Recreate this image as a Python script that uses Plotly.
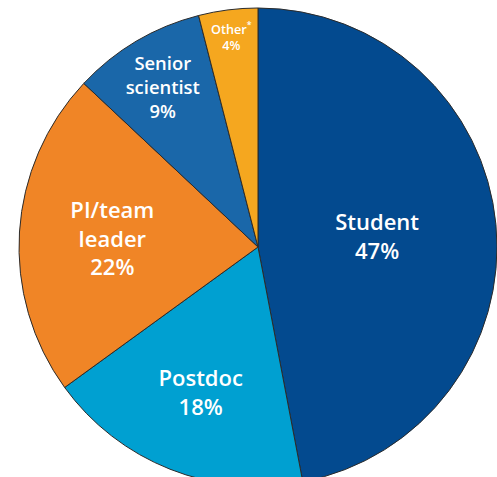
import plotly.graph_objects as go

categories = ["Student", "Postdoc", "PI/team<br>leader", "Senior<br>scientist", "Other<sup>*</sup>"]
shares = [47, 18, 22, 9, 4]
colors = ["#034A8F", "#00A0D1", "#F08526", "#1A67A9", "#F5A71F"]

W, H = 497, 486
cx, cy, r = 258, 247, 239

fig = go.Figure(go.Pie(
    labels=categories,
    values=shares,
    sort=False,
    direction="clockwise",
    rotation=0,
    marker=dict(colors=colors, line=dict(color="#2b2b2b", width=1)),
    texttemplate="%{label}<br>%{value}%",
    textposition="inside",
    insidetextorientation="horizontal",
    textfont=dict(family="Open Sans, sans-serif", size=22, color="white", weight=600),
    hoverinfo="label+value",
    showlegend=False,
    domain=dict(x=[(cx - r) / W, (cx + r) / W], y=[(H - cy - r) / H, (H - cy + r) / H]),
))
fig.update_layout(
    width=W, height=H,
    margin=dict(l=0, r=0, t=0, b=0),
    paper_bgcolor="white",
)
fig.write_html(
    "out.html",
    config={"displayModeBar": False},
    post_script="document.body.style.margin='0';document.body.style.overflow='hidden';",
)
